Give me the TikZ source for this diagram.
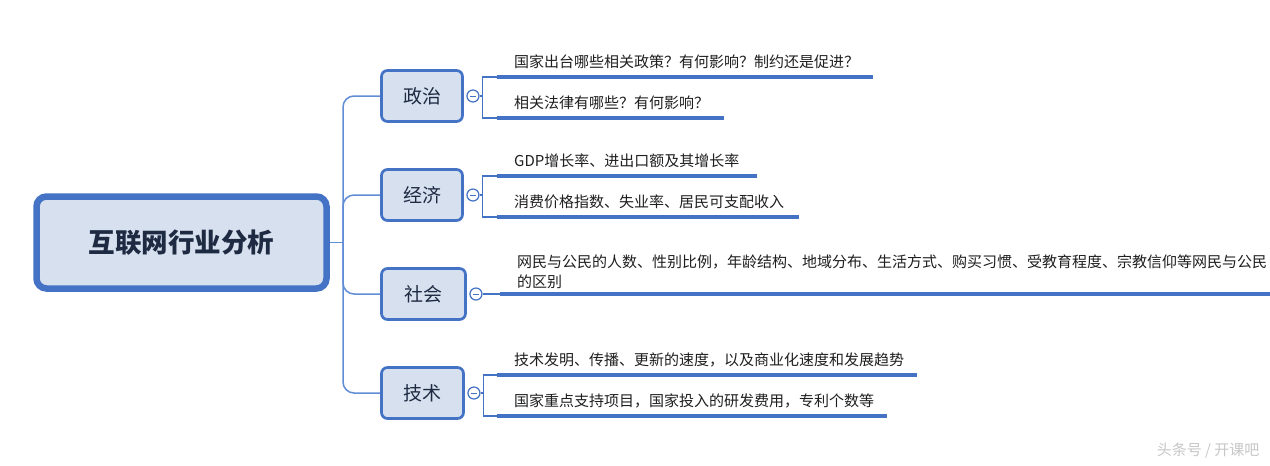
\documentclass[tikz,border=0pt]{standalone}
\usepackage{fontspec}
\setmainfont{Noto Sans CJK SC}
\usetikzlibrary{positioning}
\definecolor{edge}{RGB}{68,114,196}
\definecolor{twig}{RGB}{96,141,214}
\definecolor{pale}{RGB}{214,224,239}
\definecolor{ink}{RGB}{30,42,66}

\begin{document}
\begin{tikzpicture}[x=1pt,y=-1pt,
  root/.style={draw=edge,line width=6.5pt,rounded corners=10pt,fill=pale,minimum width=290pt,minimum height=92pt,font=\fontsize{26.5}{30}\selectfont\bfseries,text=ink},
  topic/.style={draw=edge,line width=2.7pt,rounded corners=6pt,fill=pale,minimum width=81pt,minimum height=51pt,font=\fontsize{19}{22}\selectfont,text=ink},
  knob/.style={circle,draw=edge,line width=1.2pt,fill=white,minimum size=12pt,inner sep=0pt,path picture={\draw[edge,line width=1pt] ([xshift=-3pt]path picture bounding box.center) -- ([xshift=3pt]path picture bounding box.center);}},
  leaf/.style={anchor=south west,inner xsep=17pt,inner ysep=9pt,text depth=0pt,align=left,font=\fontsize{15}{20}\selectfont,text=black!88},
  trunk/.style={twig,line width=1.5pt,rounded corners=11pt},
  fork/.style={edge,line width=1.3pt},
  stem/.style={edge,line width=4pt}]
  \useasboundingbox[fill=white] (0,0) rectangle (1270,466);
  \node[root] (main) at (181.5,242.5) {互联网行业分析};
  \coordinate (hub) at (343,242.5);
  \node[topic] (zz) at (422,96) {政治};
  \node[topic] (jj) at (422,195) {经济};
  \node[topic,minimum width=84pt] (sh) at (423.5,294) {社会};
  \node[topic,minimum width=82pt] (js) at (422.5,393) {技术};
  \node[knob,right=2.5pt of zz] (k1) {};
  \node[knob,right=2.5pt of jj] (k2) {};
  \node[knob,right=2.5pt of sh] (k3) {};
  \node[knob,right=2.5pt of js] (k4) {};
  \node[leaf,text width=342pt] (l11) at (497,77) {国家出台哪些相关政策？有何影响？制约还是促进？};
  \node[leaf,text width=193pt] (l12) at (497,118) {相关法律有哪些？有何影响？};
  \node[leaf,text width=226pt] (l21) at (497,176) {GDP增长率、进出口额及其增长率};
  \node[leaf,text width=268pt] (l22) at (497,217) {消费价格指数、失业率、居民可支配收入};
  \node[leaf,text width=736pt,inner ysep=6pt,text depth=20pt] (l31) at (500,294) {网民与公民的人数、性别比例，年龄结构、地域分布、生活方式、购买习惯、受教育程度、宗教信仰等网民与公民\\的区别};
  \node[leaf,text width=386pt] (l41) at (497,375) {技术发明、传播、更新的速度，以及商业化速度和发展趋势};
  \node[leaf,text width=356pt] (l42) at (497,416) {国家重点支持项目，国家投入的研发费用，专利个数等};
  \node[text=black!22,font=\fontsize{15}{18}\selectfont,anchor=east] (mark) at (1263,451) {头条号 / 开课吧};
  \draw[trunk] (main.east) -- (hub);
  \foreach \t in {zz,jj,sh,js} \draw[trunk] (hub) |- (\t.west);
  \draw[fork] (k1.east) -- ++(3,0) |- (l11.south west);
  \draw[fork] (k1.east) -- ++(3,0) |- (l12.south west);
  \draw[fork] (k2.east) -- ++(3,0) |- (l21.south west);
  \draw[fork] (k2.east) -- ++(3,0) |- (l22.south west);
  \draw[fork] (k3.east) -- (l31.south west);
  \draw[fork] (k4.east) -- ++(3,0) |- (l41.south west);
  \draw[fork] (k4.east) -- ++(3,0) |- (l42.south west);
  \foreach \l in {l11,l12,l21,l22,l31,l41,l42} \draw[stem] (\l.south west) -- (\l.south east);
\end{tikzpicture}
\end{document}
